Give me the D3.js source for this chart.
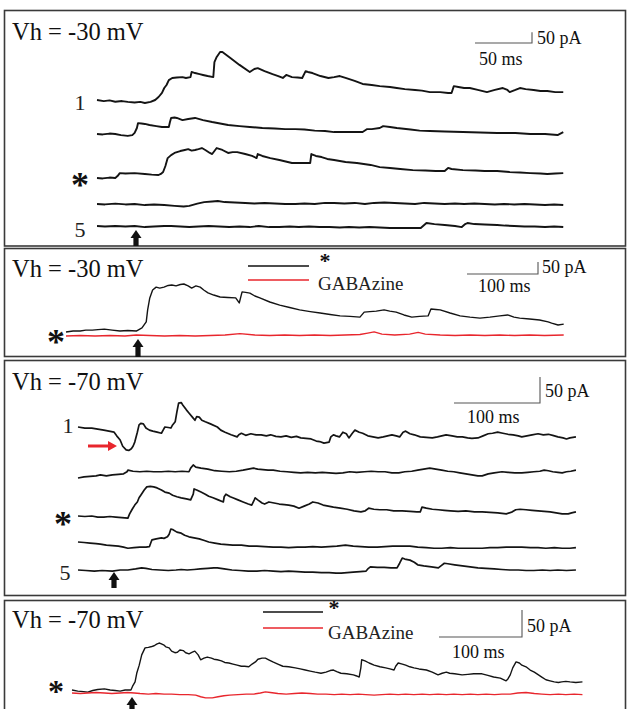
<!DOCTYPE html>
<html><head><meta charset="utf-8">
<script src="https://cdn.jsdelivr.net/npm/d3@7/dist/d3.min.js"></script>
<style>html,body{margin:0;padding:0;background:#fff;}svg{display:block;}</style>
</head><body>
<svg id="chart" width="629" height="709"></svg>
<script>
// ===== DATA: [time (ms from sweep start), current (pA, upward positive, relative to sweep start)] =====
// Panel A: Vh = -30 mV, five sweeps (1 .. 5), 50 ms / 50 pA
const a_sweep1 = [[0,0],[6,-5],[11,-2],[16,-8],[22,-5],[27,-9],[33,-12],[38,-9],[42,-14],[47,-9],[51,0],[54,14],[57,33],[59,56],[61,70],[63,93],[66,103],[70,105],[75,107],[78,103],[82,107],[83,131],[86,126],[90,121],[93,117],[97,112],[102,107],[103,177],[105,201],[108,224],[110,224],[117,196],[125,164],[134,131],[138,145],[141,149],[147,135],[154,121],[159,112],[163,103],[166,117],[171,107],[176,105],[180,103],[183,135],[185,131],[189,126],[196,112],[203,103],[208,107],[213,112],[218,103],[226,89],[233,75],[241,70],[248,65],[257,61],[263,56],[270,51],[279,47],[285,44],[292,37],[301,37],[308,33],[311,33],[313,65],[317,61],[322,56],[327,56],[334,47],[342,37],[349,47],[356,56],[360,47],[362,37],[367,47],[371,56],[376,51],[383,47],[389,42],[395,42],[402,37],[409,37]];
const a_sweep2 = [[0,0],[5,-2],[11,2],[16,0],[21,-5],[27,-9],[31,-5],[33,5],[35,28],[36,51],[39,49],[42,47],[46,42],[52,37],[57,33],[61,33],[63,33],[64,56],[65,75],[68,77],[70,75],[75,65],[80,70],[86,75],[93,65],[101,56],[108,49],[115,42],[125,37],[134,33],[145,28],[156,26],[165,23],[174,23],[182,21],[191,16],[200,14],[208,9],[218,9],[226,9],[233,9],[237,23],[241,23],[248,28],[251,37],[257,33],[263,28],[275,21],[283,16],[292,14],[305,12],[321,9],[336,7],[351,5],[367,5],[380,0],[393,0],[404,-5],[409,9]];
const a_sweep3 = [[0,0],[5,-2],[11,2],[16,0],[18,9],[20,23],[25,21],[33,23],[42,19],[48,16],[54,14],[56,19],[58,28],[60,56],[62,93],[65,107],[68,117],[73,126],[77,131],[80,135],[83,128],[86,131],[89,135],[92,140],[95,131],[99,117],[101,112],[103,126],[105,140],[110,131],[115,117],[119,121],[123,121],[130,112],[136,103],[140,93],[141,112],[145,103],[152,93],[160,84],[171,70],[178,70],[187,70],[188,112],[192,103],[197,98],[202,89],[208,84],[218,75],[228,70],[240,61],[248,51],[257,47],[266,42],[277,37],[288,35],[297,33],[305,33],[308,47],[311,42],[321,37],[332,35],[340,33],[351,33],[362,28],[371,26],[380,23],[389,21],[395,19],[402,21],[409,23]];
const a_sweep4 = [[0,0],[7,-2],[16,2],[25,-2],[33,0],[42,-5],[50,-2],[59,-5],[68,-9],[76,-12],[81,-9],[88,2],[94,9],[101,12],[106,14],[112,9],[121,7],[130,5],[138,2],[147,5],[156,2],[165,0],[174,0],[182,2],[191,0],[200,5],[208,5],[217,2],[226,5],[235,0],[243,5],[252,7],[261,5],[270,2],[279,0],[287,5],[296,2],[305,0],[314,2],[322,0],[331,2],[340,0],[349,-2],[357,0],[366,-2],[375,0],[384,-2],[393,-5],[401,-2],[409,-5]];
const a_sweep5 = [[0,0],[7,-2],[16,0],[25,-2],[33,0],[42,-5],[50,-2],[59,0],[65,0],[73,-2],[81,-5],[89,-2],[98,0],[107,-2],[116,-5],[125,-2],[134,-5],[142,0],[151,-5],[160,-5],[169,-2],[177,-5],[186,-2],[195,-5],[204,-5],[213,-7],[221,-5],[230,-7],[239,-5],[248,-7],[257,-9],[266,-9],[275,-9],[284,-9],[287,5],[289,14],[296,9],[305,5],[314,0],[320,-5],[323,9],[325,14],[331,9],[340,7],[351,5],[358,2],[366,0],[375,-2],[384,-2],[393,-5],[401,-2],[409,-5]];

// Panel B: Vh = -30 mV, sweep * vs GABAzine, 100 ms / 50 pA
const b_control = [[0,0],[10,4],[20,4],[28,8],[37,8],[45,10],[54,12],[65,8],[76,4],[87,6],[99,4],[107,17],[113,42],[115,92],[118,142],[122,175],[127,187],[132,183],[138,187],[144,194],[149,196],[155,192],[161,198],[166,200],[172,192],[177,183],[183,192],[189,187],[194,175],[200,163],[208,154],[217,146],[228,144],[239,142],[244,121],[248,167],[253,165],[259,162],[266,150],[273,142],[287,125],[301,112],[315,102],[329,92],[344,85],[358,79],[372,73],[386,67],[400,65],[414,62],[420,83],[428,85],[437,87],[448,92],[456,87],[465,83],[476,71],[487,62],[498,65],[510,67],[514,96],[521,94],[527,92],[541,79],[555,67],[569,62],[583,58],[597,62],[611,67],[622,71],[631,62],[639,58],[653,54],[667,50],[679,42],[684,37],[693,29],[701,33]];
const b_gabazine = [[0,0],[20,2],[41,0],[62,2],[83,0],[99,4],[118,2],[139,0],[160,2],[182,0],[203,2],[224,4],[245,10],[266,4],[287,2],[308,4],[329,2],[350,4],[372,2],[393,4],[414,6],[425,12],[434,17],[445,8],[463,4],[484,8],[496,15],[506,8],[527,4],[548,2],[569,4],[590,2],[611,4],[632,2],[653,4],[674,2],[701,4]];

// Panel C: Vh = -70 mV, five sweeps (1 .. 5), 100 ms / 50 pA
const c_sweep1 = [[0,0],[8,-2],[16,-2],[23,-4],[30,-6],[36,-8],[42,-10],[45,-17],[49,-25],[52,-37],[56,-44],[59,-45],[62,-42],[64,-37],[66,-29],[69,-10],[71,4],[73,7],[76,6],[79,-2],[83,-6],[87,-8],[92,-10],[97,-12],[99,-6],[101,0],[105,-1],[108,-2],[110,4],[113,10],[115,29],[117,46],[120,47],[122,42],[126,33],[129,27],[133,19],[136,13],[138,20],[141,19],[144,13],[148,10],[154,6],[162,0],[166,-6],[171,-10],[178,-15],[185,-19],[187,-15],[190,-12],[195,-16],[201,-13],[207,-15],[213,-15],[219,-17],[224,-15],[230,-18],[236,-19],[242,-17],[248,-20],[254,-18],[259,-21],[265,-22],[271,-23],[277,-27],[281,-28],[286,-31],[292,-29],[294,-19],[297,-15],[300,-17],[304,-19],[308,-10],[312,-13],[315,-21],[319,-12],[322,-6],[327,-10],[331,-12],[337,-17],[343,-19],[349,-21],[355,-19],[360,-17],[365,-15],[370,-17],[374,-19],[378,-10],[381,-8],[386,-13],[391,-15],[398,-19],[405,-20],[412,-21],[418,-19],[423,-17],[428,-15],[435,-17],[441,-19],[447,-19],[453,-21],[458,-22],[465,-21],[471,-17],[477,-13],[482,-12],[488,-10],[494,-12],[500,-14],[506,-15],[512,-17],[516,-19],[522,-17],[528,-15],[535,-13],[541,-15],[547,-14],[552,-16],[558,-19],[564,-21],[568,-23],[572,-21],[579,-19]];
const c_sweep2 = [[0,0],[7,2],[14,3],[21,4],[26,6],[33,4],[40,6],[47,7],[53,8],[57,12],[58,15],[64,13],[72,12],[80,13],[88,12],[97,12],[105,13],[113,12],[121,13],[129,12],[131,19],[134,25],[137,21],[143,19],[151,17],[159,14],[167,13],[176,12],[184,13],[192,15],[198,17],[204,19],[209,17],[215,16],[221,15],[227,15],[235,13],[243,12],[251,11],[259,10],[267,11],[276,10],[284,11],[292,10],[300,9],[308,10],[316,12],[324,11],[333,12],[341,13],[349,12],[357,12],[365,10],[373,10],[380,12],[388,13],[395,15],[402,17],[409,19],[416,17],[423,15],[430,13],[437,12],[444,10],[451,8],[458,6],[465,4],[470,4],[477,8],[484,10],[493,12],[500,11],[508,10],[516,10],[523,11],[530,12],[537,13],[542,15],[547,14],[552,12],[558,11],[563,10],[568,12],[573,13],[579,15]];
const c_sweep3 = [[0,0],[8,-1],[16,0],[23,-2],[30,-2],[37,-1],[44,-2],[51,-3],[58,-4],[60,4],[63,13],[66,21],[69,27],[71,35],[73,40],[77,50],[80,56],[84,57],[88,56],[92,54],[97,50],[101,46],[106,44],[110,40],[115,37],[120,35],[126,33],[131,31],[134,42],[135,52],[138,50],[143,46],[148,42],[152,38],[157,35],[163,31],[169,27],[170,37],[172,42],[177,37],[180,35],[186,31],[192,27],[198,23],[202,21],[205,31],[206,35],[209,31],[214,25],[217,23],[222,27],[228,25],[234,23],[240,22],[245,21],[251,19],[257,15],[263,19],[269,23],[273,27],[279,25],[285,21],[291,19],[297,17],[305,15],[313,13],[321,10],[329,8],[334,10],[338,15],[344,13],[351,12],[359,12],[367,10],[377,10],[386,9],[394,8],[398,8],[400,17],[405,15],[412,13],[419,12],[426,11],[433,10],[442,9],[451,10],[461,8],[470,8],[479,7],[488,6],[498,4],[505,8],[509,12],[514,13],[521,12],[528,11],[535,10],[542,9],[549,8],[556,6],[563,4],[570,4],[574,6],[579,8]];
const c_sweep4 = [[0,0],[7,-1],[14,-2],[21,-3],[26,-4],[33,-6],[40,-7],[47,-8],[53,-10],[58,-12],[65,-11],[72,-10],[79,-10],[83,-9],[85,0],[86,4],[91,6],[97,8],[100,7],[104,10],[106,15],[108,25],[110,24],[115,19],[120,17],[124,13],[129,10],[135,8],[141,6],[147,3],[152,0],[159,-2],[166,-4],[173,-5],[180,-6],[190,-6],[199,-8],[208,-8],[217,-9],[227,-10],[236,-10],[245,-11],[255,-10],[264,-10],[273,-9],[283,-10],[292,-9],[301,-8],[311,-6],[320,-8],[329,-9],[338,-10],[348,-10],[357,-9],[366,-8],[376,-8],[386,-8],[395,-10],[405,-11],[414,-12],[423,-12],[433,-11],[442,-12],[451,-12],[461,-12],[470,-12],[479,-11],[488,-11],[498,-10],[507,-10],[516,-10],[526,-11],[535,-11],[544,-12],[554,-11],[563,-12],[572,-12],[579,-11]];
const c_sweep5 = [[0,0],[9,-1],[19,-2],[28,-1],[40,-2],[49,0],[58,0],[67,2],[74,4],[79,3],[86,1],[95,0],[105,-1],[114,0],[120,1],[127,0],[135,1],[142,2],[151,3],[158,4],[162,4],[170,2],[179,0],[188,-1],[198,-2],[208,-2],[217,-1],[227,-2],[236,-3],[245,-2],[255,-3],[264,-4],[273,-4],[283,-5],[292,-5],[300,-6],[306,-6],[313,-5],[320,-4],[328,-3],[335,-2],[337,2],[340,6],[348,5],[356,5],[364,4],[371,4],[374,13],[377,23],[380,21],[386,19],[391,15],[395,10],[402,8],[411,6],[419,4],[422,8],[426,13],[430,12],[438,10],[447,8],[456,6],[465,4],[474,3],[484,2],[493,1],[502,0],[512,0],[521,-1],[530,-1],[540,0],[549,-1],[558,0],[568,-1],[579,0]];

// Panel D: Vh = -70 mV, sweep * vs GABAzine, 100 ms / 50 pA
const d_control = [[0,0],[7,-2],[14,-3],[19,-4],[25,-1],[31,1],[39,2],[46,0],[52,-1],[58,-2],[64,0],[71,0],[73,7],[76,15],[78,31],[81,46],[84,65],[88,78],[92,79],[95,80],[99,82],[102,85],[105,87],[107,86],[111,83],[113,80],[117,78],[120,72],[124,69],[127,70],[130,74],[134,73],[137,69],[141,67],[145,70],[148,72],[152,65],[155,56],[159,59],[163,61],[168,59],[171,57],[175,56],[180,54],[184,51],[189,50],[194,48],[199,46],[204,44],[208,44],[213,43],[217,48],[221,52],[224,57],[229,59],[233,59],[237,56],[242,52],[248,48],[254,44],[261,43],[269,41],[275,39],[281,37],[287,35],[293,33],[300,31],[306,33],[311,36],[315,37],[319,34],[324,31],[331,30],[339,28],[343,26],[346,24],[348,41],[349,56],[353,54],[358,50],[364,46],[371,43],[378,41],[383,39],[388,37],[390,44],[393,50],[398,48],[402,46],[407,43],[412,41],[418,39],[427,37],[434,33],[441,28],[446,31],[451,33],[455,31],[461,30],[470,28],[477,29],[484,30],[494,30],[501,27],[508,24],[516,22],[523,17],[525,20],[528,28],[531,41],[535,52],[539,50],[542,46],[547,43],[552,37],[557,33],[562,28],[566,24],[571,19],[576,17],[581,15],[586,14],[590,15],[595,16],[600,15],[607,14],[615,15]];
const d_gabazine = [[0,0],[10,-1],[19,0],[29,1],[39,0],[48,-1],[58,0],[67,1],[75,0],[82,-1],[92,-2],[101,-1],[111,-2],[120,-2],[130,-3],[140,-3],[149,-4],[155,-7],[161,-9],[169,-9],[176,-7],[183,-5],[190,-4],[200,-3],[210,-2],[219,-2],[227,0],[233,2],[239,1],[248,-1],[258,-2],[268,-1],[277,0],[287,-1],[296,-2],[306,-2],[316,-3],[325,-2],[335,-3],[345,-2],[354,-3],[364,-4],[373,-3],[383,-2],[393,-3],[402,-2],[412,-3],[422,-2],[431,-3],[441,-2],[451,-3],[460,-2],[470,-3],[480,-2],[489,-3],[499,-2],[509,-3],[518,-2],[528,-2],[537,0],[547,1],[557,-1],[566,-2],[576,-3],[586,-2],[595,-3],[605,-2],[615,-3]];

// Labels
const holdingLabels = ["Vh = -30 mV", "Vh = -30 mV", "Vh = -70 mV", "Vh = -70 mV"];
const scaleBarMs = [50, 100, 100, 100];
const scaleBarPA = [50, 50, 50, 50];
const legendLabels = ["*", "GABAzine"];

// ===== LAYOUT =====
const FONT = "'Liberation Serif','Times New Roman',Times,serif";
const RED = "#e8262d";
const svg = d3.select("#chart");

const panels = [
  { box:[4.5,10.5,621,235.5], x0:97, pxPerBarMs:57, pxPerBarPA:10.7, sw:1.9,
    traces:[{d:a_sweep1,y:100},{d:a_sweep2,y:134},{d:a_sweep3,y:178},{d:a_sweep4,y:204},{d:a_sweep5,y:226}],
    bar:{x:475,y:43}, barPA:{x:537,y:44}, barMs:{x:479,y:65},
    vh:{y:40}, marks:[{t:"1",x:80,y:110},{t:"*",x:80,base:197,size:36},{t:"5",x:80,y:237}],
    arrow:{x:136,tip:230,bottom:246} },
  { box:[4.5,248.5,621,108], x0:66, pxPerBarMs:71, pxPerBarPA:12, sw:1.4,
    traces:[{d:b_control,y:332},{d:b_gabazine,y:336,red:true}],
    bar:{x:467,y:274}, barPA:{x:542,y:273}, barMs:{x:478,y:292},
    vh:{y:277}, marks:[{t:"*",x:56,base:354,size:36}],
    legend:{x1:248,x2:309,yBlack:266,yRed:280,star:{x:325,base:268,size:22},text:{x:318,y:290}},
    arrow:{x:138,tip:339,bottom:357} },
  { box:[4.5,360.5,621,235], x0:78, pxPerBarMs:86, pxPerBarPA:26, sw:1.7,
    traces:[{d:c_sweep1,y:427},{d:c_sweep2,y:478},{d:c_sweep3,y:516},{d:c_sweep4,y:542},{d:c_sweep5,y:570}],
    bar:{x:454,y:403}, barPA:{x:545,y:397}, barMs:{x:467,y:423},
    vh:{y:390}, marks:[{t:"1",x:68,y:433},{t:"*",x:63,base:536,size:36},{t:"5",x:65,y:580}],
    arrow:{x:114,tip:572,bottom:588},
    redArrow:{x1:88,x2:117,y:446} },
  { box:[4.5,600.5,621,120], x0:72, pxPerBarMs:83, pxPerBarPA:27, sw:1.4,
    traces:[{d:d_control,y:690},{d:d_gabazine,y:693,red:true}],
    bar:{x:439,y:637}, barPA:{x:527,y:632}, barMs:{x:452,y:658},
    vh:{y:628}, marks:[{t:"*",x:56,base:701.5,size:32}],
    legend:{x1:263,x2:323,yBlack:612,yRed:628,star:{x:334,base:615,size:22},text:{x:328,y:639}},
    arrow:{x:132,tip:697,bottom:712} }
];

function star(g, x, base, size) {
  g.append("text").attr("x", x).attr("y", base)
    .attr("text-anchor","middle").attr("font-family",FONT).attr("font-weight","bold")
    .attr("font-size", size).attr("fill","#111").text(legendLabels[0]);
}

panels.forEach((p, i) => {
  const g = svg.append("g");
  // frame
  g.append("rect").attr("x",p.box[0]).attr("y",p.box[1]).attr("width",p.box[2]).attr("height",p.box[3])
    .attr("fill","none").attr("stroke","#3a3a3a").attr("stroke-width",1.6);

  const xs = d3.scaleLinear().domain([0, scaleBarMs[i]]).range([p.x0, p.x0 + p.pxPerBarMs]);
  const yFor = base => d3.scaleLinear().domain([0, scaleBarPA[i]]).range([base, base - p.pxPerBarPA]);

  p.traces.forEach(tr => {
    const ys = yFor(tr.y);
    const line = d3.line().x(d => xs(d[0])).y(d => ys(d[1]));
    g.append("path").attr("d", line(tr.d)).attr("fill","none")
      .attr("stroke", tr.red ? RED : "#141414").attr("stroke-width", p.sw)
      .attr("stroke-linejoin","round");
  });

  // scale bar (same scales as the traces)
  const barLen = xs(scaleBarMs[i]) - xs(0);
  const ybar = yFor(p.bar.y);
  const bx2 = p.bar.x + barLen;
  g.append("path").attr("d", `M${p.bar.x},${p.bar.y}H${bx2}V${ybar(scaleBarPA[i])}`)
    .attr("fill","none").attr("stroke","#555").attr("stroke-width",1.1);
  g.append("text").attr("x",p.barPA.x).attr("y",p.barPA.y).attr("font-family",FONT).attr("font-size",18)
    .attr("fill","#111").text(scaleBarPA[i] + " pA");
  g.append("text").attr("x",p.barMs.x).attr("y",p.barMs.y).attr("font-family",FONT).attr("font-size",18)
    .attr("fill","#111").text(scaleBarMs[i] + " ms");

  // holding potential
  g.append("text").attr("x",12).attr("y",p.vh.y).attr("font-family",FONT).attr("font-size",24.5)
    .attr("fill","#111").text(holdingLabels[i]);

  // sweep marks
  p.marks.forEach(m => {
    if (m.t === "*") star(g, m.x, m.base, m.size);
    else g.append("text").attr("x",m.x).attr("y",m.y).attr("text-anchor","middle")
      .attr("font-family",FONT).attr("font-size",22).attr("fill","#222").text(m.t);
  });

  // legend
  if (p.legend) {
    const L = p.legend;
    g.append("line").attr("x1",L.x1).attr("x2",L.x2).attr("y1",L.yBlack).attr("y2",L.yBlack)
      .attr("stroke","#111").attr("stroke-width",1.6);
    g.append("line").attr("x1",L.x1).attr("x2",L.x2).attr("y1",L.yRed).attr("y2",L.yRed)
      .attr("stroke",RED).attr("stroke-width",1.6);
    star(g, L.star.x, L.star.base, L.star.size);
    g.append("text").attr("x",L.text.x).attr("y",L.text.y).attr("font-family",FONT).attr("font-size",19)
      .attr("fill","#222").text(legendLabels[1]);
  }

  // stimulus arrow
  const A = p.arrow;
  g.append("path").attr("d",
    `M${A.x},${A.tip}L${A.x+5.5},${A.tip+8}L${A.x+2.6},${A.tip+8}L${A.x+2.6},${A.bottom}L${A.x-2.6},${A.bottom}L${A.x-2.6},${A.tip+8}L${A.x-5.5},${A.tip+8}Z`)
    .attr("fill","#111");

  if (p.redArrow) {
    const R = p.redArrow;
    g.append("path").attr("d",
      `M${R.x2},${R.y}L${R.x2-9},${R.y-5}L${R.x2-9},${R.y-1.6}L${R.x1},${R.y-1.6}L${R.x1},${R.y+1.6}L${R.x2-9},${R.y+1.6}L${R.x2-9},${R.y+5}Z`)
      .attr("fill",RED);
  }
});
</script>
</body></html>
